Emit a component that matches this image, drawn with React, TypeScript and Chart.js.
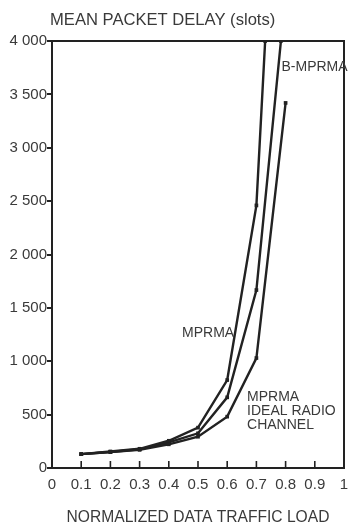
import { useEffect, useRef } from 'react';
import { Chart, registerables } from 'chart.js';

Chart.register(...registerables);

// Normalized data traffic load (x) and mean packet delay in slots (y).
// Curves that leave the plot are ended where they cross the 4 000 ceiling.
const mprmaLoad = [0.1, 0.2, 0.3, 0.4, 0.5, 0.6, 0.7, 0.73];
const mprmaDelay = [130, 155, 180, 255, 378, 824, 2460, 4000];

const bMprmaLoad = [0.1, 0.2, 0.3, 0.4, 0.5, 0.6, 0.7, 0.784];
const bMprmaDelay = [130, 150, 175, 240, 325, 662, 1667, 4000];

const idealLoad = [0.1, 0.2, 0.3, 0.4, 0.5, 0.6, 0.7, 0.8];
const idealDelay = [130, 150, 170, 222, 293, 481, 1030, 3420];

const xTickLabels = ['0', '0.1', '0.2', '0.3', '0.4', '0.5', '0.6', '0.7', '0.8', '0.9', '1'];
const yTickLabels = ['0', '500', '1 000', '1 500', '2 000', '2 500', '3 000', '3 500', '4 000'];

const yTitle = 'MEAN PACKET DELAY (slots)';
const xTitle = 'NORMALIZED DATA TRAFFIC LOAD';

// Curve labels, anchored in data coordinates.
const curveLabels = [
  { lines: ['B-MPRMA'], x: 0.786, y: 3756, align: 'left' as CanvasTextAlign },
  { lines: ['MPRMA'], x: 0.624, y: 1265, align: 'right' as CanvasTextAlign },
  { lines: ['MPRMA', 'IDEAL RADIO', 'CHANNEL'], x: 0.668, y: 665, align: 'left' as CanvasTextAlign },
];

const INK = '#222222';
const TEXT = '#3a3a3a';
const FONT = '"Liberation Sans", Arial, Helvetica, sans-serif';

const toPoints = (xs: number[], ys: number[]) => xs.map((x, i) => ({ x, y: ys[i] }));

const framePlugin = {
  id: 'frame',
  afterDraw(chart: any) {
    const { ctx, chartArea } = chart;
    const xScale = chart.scales.x;
    const yScale = chart.scales.y;
    ctx.save();
    // top and right sides of the box
    ctx.strokeStyle = INK;
    ctx.lineWidth = 2;
    ctx.beginPath();
    ctx.moveTo(chartArea.left, chartArea.top);
    ctx.lineTo(chartArea.right, chartArea.top);
    ctx.lineTo(chartArea.right, chartArea.bottom);
    ctx.stroke();
    // inward tick marks on the load axis
    ctx.lineWidth = 1.6;
    for (let i = 1; i < xTickLabels.length - 1; i++) {
      const px = xScale.getPixelForValue(i / 10);
      ctx.beginPath();
      ctx.moveTo(px, chartArea.bottom);
      ctx.lineTo(px, chartArea.bottom - 7);
      ctx.stroke();
    }
    // axis title above the plot
    ctx.fillStyle = TEXT;
    ctx.font = `16.6px ${FONT}`;
    ctx.textAlign = 'left';
    ctx.textBaseline = 'middle';
    ctx.fillText(yTitle, chartArea.left - 2, 20);
    // curve labels
    ctx.font = `14px ${FONT}`;
    for (const lab of curveLabels) {
      const px = xScale.getPixelForValue(lab.x);
      const py = yScale.getPixelForValue(lab.y);
      ctx.textAlign = lab.align;
      lab.lines.forEach((t, k) => ctx.fillText(t, px, py + k * 14));
    }
    ctx.restore();
  },
};

export default function App() {
  const canvasRef = useRef<HTMLCanvasElement | null>(null);

  useEffect(() => {
    document.body.style.margin = '0';
    const canvas = canvasRef.current;
    if (!canvas) return;

    const lineStyle = {
      borderColor: INK,
      backgroundColor: INK,
      borderWidth: 2.4,
      pointStyle: 'rect' as const,
      pointRadius: 2.6,
      pointBorderWidth: 0,
      tension: 0,
      fill: false,
    };

    const chart = new Chart(canvas, {
      type: 'line',
      data: {
        datasets: [
          { label: 'MPRMA', data: toPoints(mprmaLoad, mprmaDelay), ...lineStyle },
          { label: 'B-MPRMA', data: toPoints(bMprmaLoad, bMprmaDelay), ...lineStyle },
          { label: 'MPRMA ideal radio channel', data: toPoints(idealLoad, idealDelay), ...lineStyle },
        ],
      },
      options: {
        animation: false,
        responsive: false,
        maintainAspectRatio: false,
        layout: { padding: { top: 41, right: 3, left: 0, bottom: 0 } },
        plugins: {
          legend: { display: false },
          tooltip: { enabled: false },
          title: { display: false },
        },
        scales: {
          x: {
            type: 'linear',
            min: 0,
            max: 1,
            ticks: {
              stepSize: 0.1,
              autoSkip: false,
              maxRotation: 0,
              padding: 8,
              color: TEXT,
              font: { family: FONT, size: 15 },
              callback: (_v: any, i: number) => xTickLabels[i],
            },
            grid: { display: false, drawTicks: false },
            border: { display: true, color: INK, width: 2 },
            title: {
              display: true,
              text: xTitle,
              color: TEXT,
              font: { family: FONT, size: 15.6, lineHeight: 1 },
              padding: { top: 0, bottom: -1 },
            },
            afterFit: (s: any) => {
              s.height = 56;
              s.paddingLeft = 0;
              s.paddingRight = 0;
            },
          },
          y: {
            type: 'linear',
            min: 0,
            max: 4000,
            ticks: {
              stepSize: 500,
              padding: 0,
              color: TEXT,
              font: { family: FONT, size: 15 },
              callback: (_v: any, i: number) => yTickLabels[i],
            },
            grid: {
              display: true,
              drawOnChartArea: false,
              drawTicks: true,
              tickLength: 5,
              color: INK,
              lineWidth: 2,
            },
            border: { display: true, color: INK, width: 2 },
            afterFit: (s: any) => {
              s.width = 52;
            },
          },
        },
      },
      plugins: [framePlugin],
    });

    return () => chart.destroy();
  }, []);

  return (
    <div style={{ width: 348, height: 524, background: '#ffffff' }}>
      <canvas ref={canvasRef} width={348} height={524} style={{ display: 'block' }} />
    </div>
  );
}
